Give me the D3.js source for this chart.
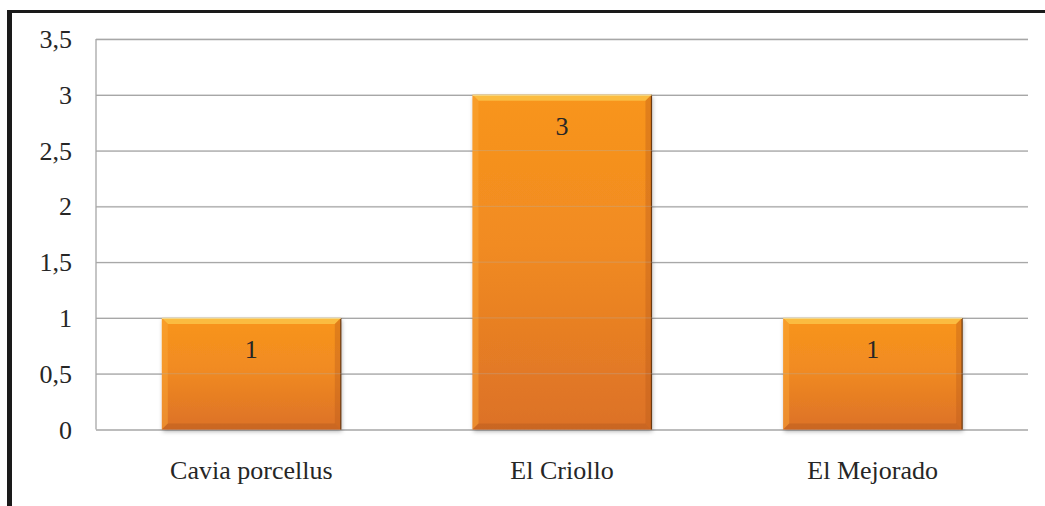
<!DOCTYPE html>
<html><head><meta charset="utf-8">
<script src="https://cdn.jsdelivr.net/npm/d3@7"></script>
<style>html,body{margin:0;padding:0;background:#fff;}svg{display:block;}</style>
</head><body>
<script>
const categories = ["Cavia porcellus", "El Criollo", "El Mejorado"];
const values = [1, 3, 1];
const yTicks = [0, 0.5, 1, 1.5, 2, 2.5, 3, 3.5];

const W = 1045, H = 506;
const m = {left: 96, right: 17, top: 39, bottom: 76.5};
const FONT = "'Liberation Serif', 'Times New Roman', serif";
const svg = d3.select("body").append("svg").attr("width", W).attr("height", H);

const defs = svg.append("defs");
const g1 = defs.append("linearGradient").attr("id","barGrad").attr("x1",0).attr("y1",0).attr("x2",0).attr("y2",1);
g1.append("stop").attr("offset","0%").attr("stop-color","#F8951D");
g1.append("stop").attr("offset","45%").attr("stop-color","#F18B21");
g1.append("stop").attr("offset","100%").attr("stop-color","#DC7127");
const f = defs.append("filter").attr("id","shadow").attr("x","-10%").attr("y","-10%").attr("width","130%").attr("height","130%");
f.append("feDropShadow").attr("dx",1).attr("dy",2).attr("stdDeviation",2).attr("flood-color","#000").attr("flood-opacity",0.3);

// frame
svg.append("rect").attr("x",7).attr("y",10).attr("width",W-7).attr("height",3).attr("fill","#1a1a1a");
svg.append("rect").attr("x",7).attr("y",10).attr("width",5).attr("height",H-10).attr("fill","#1a1a1a");

const x = d3.scaleBand().domain(categories).range([m.left, W - m.right]).paddingInner(0.424).paddingOuter(0.212);
const y = d3.scaleLinear().domain([0, 3.5]).range([H - m.bottom, m.top]);

// gridlines
const grid = svg.append("g")
  .call(d3.axisLeft(y).tickValues(yTicks).tickSize(-(W - m.right - m.left)).tickFormat(""))
  .attr("transform",`translate(${m.left},0)`);
grid.select(".domain").remove();
grid.selectAll("line").attr("stroke","#a6a6a6").attr("stroke-width",1.3);

// y axis line
svg.append("line").attr("x1",m.left).attr("x2",m.left).attr("y1",y(3.5)).attr("y2",y(0)).attr("stroke","#a6a6a6").attr("stroke-width",1.3);

// y tick labels
const fmt = d => String(d).replace(".", ",");
svg.append("g").selectAll("text").data(yTicks).join("text")
  .attr("x", 72).attr("y", d => y(d)).attr("dy","0.35em")
  .attr("text-anchor","end").attr("font-family",FONT)
  .attr("font-size",26).attr("fill","#262626").text(fmt);

// bars
const bars = svg.append("g").selectAll("g").data(categories).join("g");
bars.each(function(c, i){
  const g = d3.select(this);
  const x0 = x(c), bw = x.bandwidth(), y0 = y(values[i]), y1 = y(0), bh = y1 - y0;
  const b = 6;
  g.append("rect").attr("x",x0).attr("y",y0).attr("width",bw).attr("height",bh)
    .attr("fill","url(#barGrad)").attr("filter","url(#shadow)");
  // bevels
  g.append("polygon").attr("points",[[x0,y0],[x0+bw,y0],[x0+bw-b,y0+b],[x0+b,y0+b]].join(" "))
    .attr("fill","#FBC64A").attr("opacity",0.8);
  g.append("polygon").attr("points",[[x0,y0],[x0+b,y0+b],[x0+b,y1-b],[x0,y1]].join(" "))
    .attr("fill","#F9A535").attr("opacity",0.5);
  g.append("polygon").attr("points",[[x0+bw,y0],[x0+bw,y1],[x0+bw-b,y1-b],[x0+bw-b,y0+b]].join(" "))
    .attr("fill","#B85A1A").attr("opacity",0.35);
  g.append("polygon").attr("points",[[x0,y1],[x0+bw,y1],[x0+bw-b,y1-b],[x0+b,y1-b]].join(" "))
    .attr("fill","#A9541C").attr("opacity",0.35);
  g.append("line").attr("x1",x0+bw).attr("x2",x0+bw).attr("y1",y0).attr("y2",y1).attr("stroke","#6b3a12").attr("stroke-width",1.2);
  g.append("line").attr("x1",x0).attr("x2",x0+bw).attr("y1",y0+0.5).attr("y2",y0+0.5).attr("stroke","#FDE08A").attr("stroke-width",1);
});

// faint gridlines over bars
svg.append("g").selectAll("line").data(yTicks.filter(t => t > 0)).join("line")
  .attr("x1",m.left).attr("x2",W - m.right).attr("y1",d => y(d)).attr("y2",d => y(d))
  .attr("stroke","#b0b0b0").attr("stroke-width",1).attr("opacity",0.35);

// value labels
svg.append("g").selectAll("text").data(categories).join("text")
  .attr("x", c => x(c) + x.bandwidth()/2).attr("y", (c,i) => y(values[i]) + 31).attr("dy","0.35em")
  .attr("text-anchor","middle").attr("font-family",FONT)
  .attr("font-size",26).attr("fill","#262626").text((c,i) => values[i]);

// category labels
svg.append("g").selectAll("text").data(categories).join("text")
  .attr("x", c => x(c) + x.bandwidth()/2).attr("y", 470).attr("dy","0.35em")
  .attr("text-anchor","middle").attr("font-family",FONT)
  .attr("font-size",26).attr("fill","#262626").text(c => c);
</script>
</body></html>
